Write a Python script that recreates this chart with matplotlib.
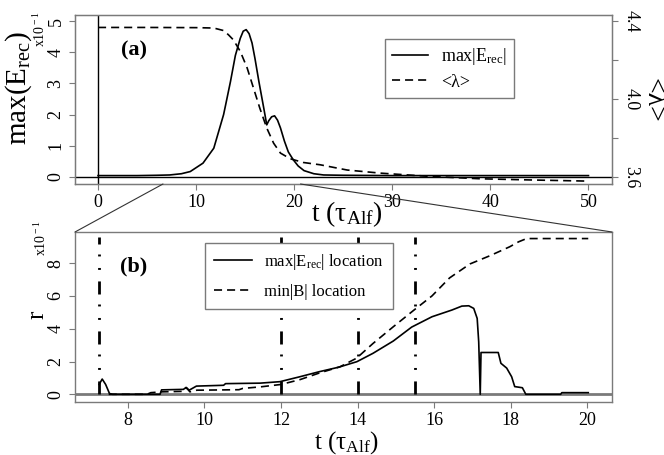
import matplotlib
matplotlib.use('Agg')
import matplotlib.pyplot as plt
from matplotlib.patches import ConnectionPatch

plt.rcParams['font.family'] = ['Liberation Serif', 'DejaVu Serif']
plt.rcParams['mathtext.fontset'] = 'custom'
plt.rcParams['mathtext.rm'] = 'Liberation Serif'
plt.rcParams['mathtext.it'] = 'Liberation Serif:italic'
plt.rcParams['mathtext.bf'] = 'Liberation Serif:bold'
plt.rcParams['lines.scale_dashes'] = False

# ---------------- panel (a) data ----------------
t_e = [0, 2, 4, 6, 7.3, 8.5, 9.4, 10.7, 11.8, 12.8, 13.0, 13.5, 14.0, 14.5, 14.8, 15.1,
       15.4, 15.7, 16.0, 16.4, 16.9, 17.2, 17.4, 17.7, 18.0, 18.3, 18.6, 19.0, 19.4,
       19.9, 20.4, 21.0, 22.0, 23.0, 25.0, 30.0, 40.0, 50.0]
e_max = [0.04, 0.04, 0.04, 0.05, 0.06, 0.10, 0.17, 0.44, 0.92, 2.0, 2.3, 3.06, 3.9,
         4.45, 4.68, 4.73, 4.6, 4.3, 3.8, 3.06, 2.2, 1.67, 1.8, 1.93, 1.96, 1.82, 1.57,
         1.15, 0.8, 0.55, 0.35, 0.2, 0.1, 0.06, 0.05, 0.04, 0.04, 0.04]

t_lam = [0, 5, 10, 11.8, 12.8, 13.3, 13.8, 14.5, 15.2, 15.85, 16.5, 17.2, 17.9, 18.6,
         19.6, 20.9, 22.65, 25.4, 28.8, 33.9, 39.0, 44.1, 50.0]
lam = [4.368, 4.368, 4.367, 4.365, 4.352, 4.33, 4.304, 4.245, 4.16, 4.056, 3.952, 3.851,
       3.773, 3.722, 3.693, 3.674, 3.662, 3.635, 3.619, 3.602, 3.590, 3.584, 3.578]

xticks_a = [0, 10, 20, 30, 40, 50]
yticks_a = [0, 1, 2, 3, 4, 5]
rticks_a = [3.6, 3.8, 4.0, 4.2, 4.4]
rtick_labels_a = ['3.6', '', '4.0', '', '4.4']

# ---------------- panel (b) data ----------------
t_eloc = [7.25, 7.33, 7.42, 7.52, 7.6, 8.84, 8.88, 9.45, 9.52, 9.6, 9.79, 10.5, 10.55,
          11.45, 11.97, 12.49, 13.0, 13.5, 13.98, 14.4, 14.93, 15.41, 15.94, 16.46, 16.72,
          16.9, 17.03, 17.12, 17.16, 17.2, 17.22, 17.67, 17.74, 17.89, 18.02, 18.1, 18.3,
          18.39, 19.3, 19.33, 20.02]
r_eloc = [0.6, 0.93, 0.6, 0.05, 0.0, 0.0, 0.27, 0.3, 0.42, 0.25, 0.5, 0.55, 0.65,
          0.68, 0.77, 1.07, 1.38, 1.65, 1.99, 2.5, 3.25, 4.1, 4.73, 5.14, 5.38,
          5.4, 5.24, 4.63, 3.2, 0.0, 2.55, 2.55, 1.89, 1.6, 1.07, 0.47, 0.4,
          0.0, 0.0, 0.1, 0.1]

t_bloc = [7.5, 8.5, 8.6, 8.9, 9.45, 9.53, 9.62, 9.8, 10.9, 11.0, 11.45, 12.0, 12.5, 13.0,
          13.54, 13.97, 14.4, 14.93, 15.45, 15.94, 16.4, 16.93, 17.45, 17.97, 18.2, 18.41,
          20.02]
r_bloc = [0.0, 0.0, 0.1, 0.15, 0.18, 0.4, 0.15, 0.25, 0.28, 0.36, 0.45, 0.6, 0.9, 1.3,
          1.68, 2.2, 3.1, 4.12, 5.1, 6.0, 7.1, 7.95, 8.45, 9.0, 9.3, 9.5, 9.5]

v_times = [7.25, 12.0, 14.0, 15.5]
v_top = 9.6

xticks_b = [8, 10, 12, 14, 16, 18, 20]
yticks_b = [0, 2, 4, 6, 8]

GRAY = '#7a7a7a'
W, H = 664, 455

fig = plt.figure(figsize=(W / 100, H / 100), dpi=100)
ax1 = fig.add_axes([75 / W, 1 - 184 / H, 537 / W, 169 / H])
ax2 = fig.add_axes([75 / W, 1 - 402 / H, 537 / W, 170 / H])

for ax in (ax1, ax2):
    for s in ax.spines.values():
        s.set_color(GRAY)
        s.set_linewidth(1.0)
    ax.tick_params(direction='out', length=4, color=GRAY, width=0.8, labelsize=13)
    ax.tick_params(axis='y', labelrotation=90)

# ---- panel (a)
ax1.set_xlim(-2.35, 52.4)
ax1.set_ylim(-0.23, 5.2)
ax1.axhline(0, color='black', lw=1.0)
ax1.axvline(0, color='black', lw=1.0)
l1, = ax1.plot(t_e, e_max, color='black', lw=1.2, label=r'max|E$_{\rm rec}$|')
ax1.set_xticks(xticks_a)
ax1.set_yticks(yticks_a)
for lab in ax1.get_yticklabels():
    lab.set_va('center')

ax1r = ax1.twinx()
ax1r.set_ylim(3.6 + 0.16 * -0.23, 3.6 + 0.16 * 5.2)
l2, = ax1r.plot(t_lam, lam, color='black', lw=1.2, dashes=(5.8, 3.6), label='<λ>')
ax1r.set_yticks(rticks_a)
ax1r.set_yticklabels(rtick_labels_a)
for s in ax1r.spines.values():
    s.set_color(GRAY)
ax1r.tick_params(direction='out', length=4, color=GRAY, width=0.8, labelsize=13)
ax1r.tick_params(axis='y', labelrotation=-90)
for lab in ax1r.get_yticklabels():
    lab.set_va('center')

leg1 = ax1r.legend(handles=[l1, l2], loc='upper left', bbox_to_anchor=(0.577, 0.858),
                   borderaxespad=0, fontsize=13, frameon=True, fancybox=False,
                   edgecolor=GRAY, framealpha=1, handlelength=2.0, labelspacing=0.35,
                   borderpad=0.4, handletextpad=0.7)
leg1.get_frame().set_linewidth(1.0)

ax1.text(134, H - 50, '(a)', transform=None, fontsize=16, fontweight='bold',
         ha='center', va='center')

# ---- panel (b)
ax2.set_xlim(6.62, 20.64)
ax2.set_ylim(-0.47, 9.9)
ax2.axhline(0, color=GRAY, lw=2.0)
ax2.vlines(v_times, 0, v_top, colors='black', lw=2.0,
           linestyles=[(0, (9.4, 8.3, 1.4, 8.3, 1.4, 7.2))])
ax2.plot(t_eloc, r_eloc, color='black', lw=1.2, label=r'max|E$_{\rm rec}$| location')
ax2.plot(t_bloc, r_bloc, color='black', lw=1.2, dashes=(5.8, 3.6), label='min|B| location')
ax2.set_xticks(xticks_b)
ax2.set_yticks(yticks_b)
for lab in ax2.get_yticklabels():
    lab.set_va('center')

leg2 = ax2.legend(loc='upper left', bbox_to_anchor=(0.242, 0.935), borderaxespad=0,
                  fontsize=12, frameon=True, fancybox=False, edgecolor=GRAY,
                  framealpha=1, handlelength=2.3, labelspacing=0.7, borderpad=0.55,
                  handletextpad=0.7)
leg2.get_frame().set_linewidth(1.0)

ax2.text(134, H - 266, '(b)', transform=None, fontsize=16, fontweight='bold',
         ha='center', va='center')

# ---- zoom connection lines
xl = ax2.get_xlim()
y0 = ax1.get_ylim()[0]
for xa, xb in ((xl[0], 0), (xl[1], 1)):
    con = ConnectionPatch(xyA=(xa, y0), coordsA=ax1.transData,
                          xyB=(xb, 1), coordsB=ax2.transAxes,
                          color='#333333', lw=0.8)
    fig.add_artist(con)

# ---- axis labels (figure pixel positions)
def ftext(x, y, s, **kw):
    fig.text(x / W, 1 - y / H, s, ha='center', va='center', **kw)

ftext(19, 88, r'max(E$_{\rm rec}$)', fontsize=21, rotation=90)
ftext(40, 29, r'x10$^{\rm -1}$', fontsize=10, rotation=90)
ftext(653, 100, '<λ>', fontsize=20, rotation=-90)
ftext(347, 214, r't (τ$_{\rm Alf}$)', fontsize=20)

ftext(37, 315, 'r', fontsize=18, rotation=90)
ftext(41, 238, r'x10$^{\rm -1}$', fontsize=10, rotation=90)
ftext(346, 443, r't (τ$_{\rm Alf}$)', fontsize=18)

fig.savefig('out.png', dpi=100)
